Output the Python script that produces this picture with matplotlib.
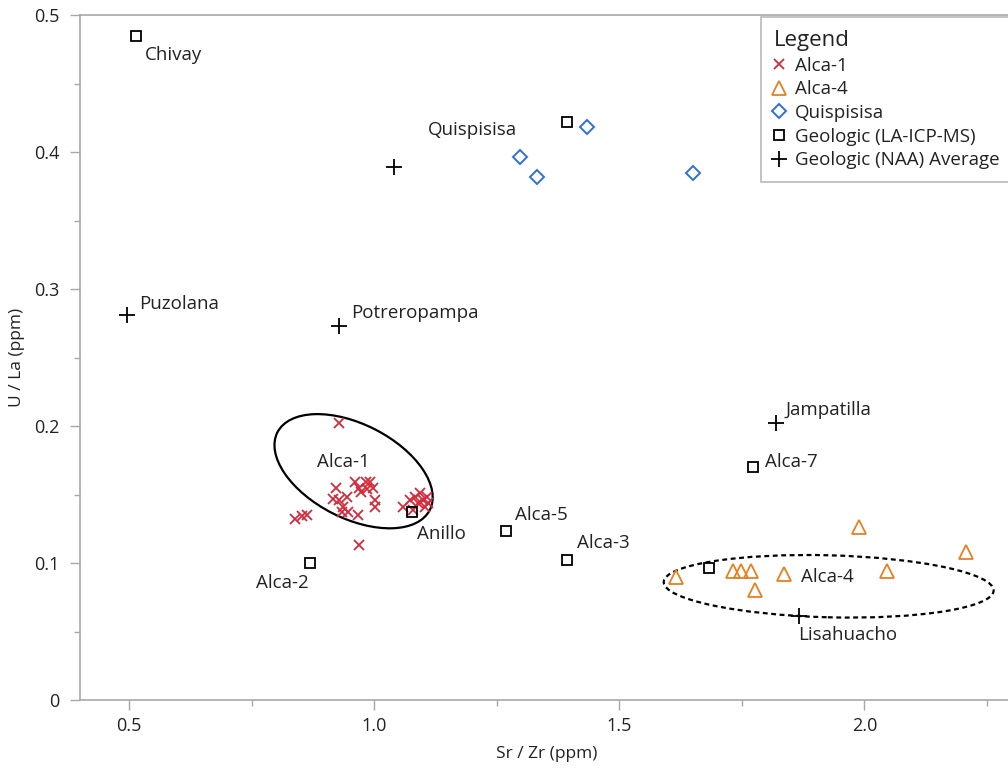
import matplotlib
matplotlib.use("Agg")
import matplotlib.pyplot as plt
from matplotlib.patches import Ellipse
from matplotlib.lines import Line2D
import matplotlib.transforms as mtransforms

plt.rcParams['font.family'] = ['Open Sans', 'DejaVu Sans']

# Alca-1 obsidian (crosses)
alca1_x = [0.929, 0.839, 0.852, 0.862, 0.923, 0.917, 0.929, 0.944, 0.960, 0.970,
           0.983, 0.991, 0.974, 0.985, 0.997, 0.936, 0.946, 0.934, 0.966, 1.001,
           1.001, 1.058, 1.073, 1.083, 1.093, 1.099, 1.107, 1.089, 1.103, 1.109,
           1.079, 0.970]
alca1_y = [0.202, 0.132, 0.134, 0.135, 0.155, 0.147, 0.146, 0.148, 0.159, 0.155,
           0.159, 0.159, 0.152, 0.154, 0.155, 0.141, 0.137, 0.137, 0.135, 0.141,
           0.146, 0.141, 0.146, 0.148, 0.151, 0.146, 0.148, 0.144, 0.141, 0.144,
           0.139, 0.113]

# Alca-4 (triangles)
alca4_x = [1.615, 1.731, 1.749, 1.768, 1.776, 1.835, 1.989, 2.046, 2.208]
alca4_y = [0.090, 0.094, 0.094, 0.094, 0.080, 0.092, 0.126, 0.094, 0.108]

# Quispisisa (diamonds)
quis_x = [1.298, 1.332, 1.435, 1.651]
quis_y = [0.396, 0.382, 0.418, 0.385]

# Geologic LA-ICP-MS (squares)
la_names = ["Chivay", "Quispisisa", "Anillo", "Alca-2", "Alca-5", "Alca-3", "Alca-7", "Alca-4"]
la_x = [0.514, 1.394, 1.077, 0.870, 1.269, 1.394, 1.772, 1.682]
la_y = [0.485, 0.422, 0.137, 0.100, 0.123, 0.102, 0.170, 0.096]

# Geologic NAA averages (plus)
naa_names = ["", "Puzolana", "Potreropampa", "Jampatilla", "Lisahuacho"]
naa_x = [1.040, 0.496, 0.929, 1.819, 1.866]
naa_y = [0.389, 0.281, 0.273, 0.202, 0.061]

# label offsets from the point: (dx px, dy px, ha)
label_pos = {
    "Chivay": (9, -19, "left"),
    "Quispisisa": (-50, -8, "right"),
    "Anillo": (5, -22, "left"),
    "Alca-2": (-2, -20, "right"),
    "Alca-5": (9, 16, "left"),
    "Alca-3": (10, 17, "left"),
    "Alca-7": (12, 5, "left"),
    "Puzolana": (12, 11, "left"),
    "Potreropampa": (12, 13, "left"),
    "Jampatilla": (10, 13, "left"),
    "Lisahuacho": (-1, -19, "left"),
}

# group ellipses: centre (data), width/height (inches), angle
alca1_ell = (0.958, 0.167, 1.71, 0.94, -27)
alca4_ell = (1.927, 0.083, 3.30, 0.62, -1.5)

red = "#d42a3c"
orange = "#e8801f"
blue = "#2f6fd6"
txt = "#222222"
grey = "#a8a8a8"
fs = 13.5

fig = plt.figure(figsize=(10.08, 7.7), dpi=100)
ax = fig.add_axes([80 / 1008, 70 / 770, 934 / 1008, 685 / 770])

ax.plot(alca1_x, alca1_y, ls="none", marker="x", ms=7.5, mew=1.3, color=red)
ax.plot(alca4_x, alca4_y, ls="none", marker="^", ms=10, mew=1.3, mfc="none", mec=orange)
ax.plot(quis_x, quis_y, ls="none", marker="D", ms=7, mew=1.4, mfc="none", mec=blue)
ax.plot(la_x, la_y, ls="none", marker="s", ms=7.5, mew=1.3, mfc="none", mec="black")
ax.plot(naa_x, naa_y, ls="none", marker="+", ms=11, mew=1.3, color="black")

for names, xs, ys in [(la_names, la_x, la_y), (naa_names, naa_x, naa_y)]:
    for n, x, y in zip(names, xs, ys):
        if n not in label_pos:
            continue
        dx, dy, ha = label_pos[n]
        ax.annotate(n, (x, y), xytext=(dx, dy), textcoords="offset pixels",
                    ha=ha, va="center", fontsize=fs, color=txt)

for (cx, cy, w, h, ang), ls in [(alca1_ell, "-"), (alca4_ell, (0, (2.2, 1.6)))]:
    tr = fig.dpi_scale_trans + mtransforms.ScaledTranslation(cx, cy, ax.transData)
    ax.add_patch(Ellipse((0, 0), w, h, angle=ang, transform=tr, fill=False,
                         ec="black", lw=1.6, ls=ls))

ax.annotate("Alca-1", (alca1_ell[0], alca1_ell[1]), xytext=(-10, 9), textcoords="offset pixels",
            ha="center", va="center", fontsize=fs, color=txt)
ax.annotate("Alca-4", (alca4_ell[0], alca4_ell[1]), xytext=(-28, 9), textcoords="offset pixels",
            ha="left", va="center", fontsize=fs, color=txt)

ax.set_xlim(0.4, 2.305)
ax.set_ylim(0, 0.5)
ax.set_xticks([0.5, 1.0, 1.5, 2.0])
ax.set_xticklabels(["0.5", "1.0", "1.5", "2.0"])
ax.set_xticks([0.75, 1.25, 1.75, 2.25], minor=True)
ax.set_yticks([0, 0.1, 0.2, 0.3, 0.4, 0.5])
ax.set_yticklabels(["0", "0.1", "0.2", "0.3", "0.4", "0.5"])
ax.set_yticks([0.05, 0.15, 0.25, 0.35, 0.45], minor=True)
ax.tick_params(which="major", direction="out", length=7, width=1, color=grey,
               labelsize=13, labelcolor=txt, pad=5)
ax.tick_params(axis="y", which="major", pad=8)
ax.tick_params(which="minor", direction="out", length=4, width=1, color=grey)
for s in ax.spines.values():
    s.set_color(grey)
    s.set_linewidth(1.2)
ax.spines["right"].set_visible(False)

ax.set_xlabel("Sr / Zr (ppm)", fontsize=12.5, color=txt, labelpad=8)
ax.set_ylabel("U / La (ppm)", fontsize=12.5, color=txt, labelpad=6)

handles = [
    Line2D([], [], ls="none", marker="x", ms=7.5, mew=1.3, color=red),
    Line2D([], [], ls="none", marker="^", ms=10, mew=1.3, mfc="none", mec=orange),
    Line2D([], [], ls="none", marker="D", ms=7, mew=1.4, mfc="none", mec=blue),
    Line2D([], [], ls="none", marker="s", ms=7.5, mew=1.3, mfc="none", mec="black"),
    Line2D([], [], ls="none", marker="+", ms=11, mew=1.3, color="black"),
]
labels = ["Alca-1", "Alca-4", "Quispisisa", "Geologic (LA-ICP-MS)", "Geologic (NAA) Average"]
leg = fig.legend(handles, labels, title="Legend", loc="upper left",
                 bbox_to_anchor=(761 / 1008, 1 - 17 / 770), fontsize=fs,
                 title_fontsize=16, alignment="left", frameon=True, fancybox=False,
                 edgecolor=grey, handlelength=0.5, handletextpad=0.6,
                 labelspacing=0.3, borderpad=0.7, borderaxespad=0)
leg.get_frame().set_linewidth(1.2)
for t in leg.get_texts():
    t.set_color(txt)
leg.get_title().set_color(txt)

fig.savefig("out.png", dpi=100)
